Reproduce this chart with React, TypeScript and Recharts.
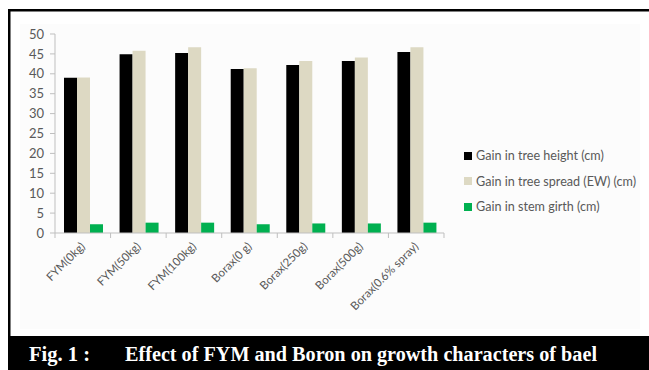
import { BarChart, Bar, XAxis, YAxis } from 'recharts';

// Fig. 1: Effect of FYM and Boron on growth characters of bael
const treatments = [
  'FYM(0kg)',
  'FYM(50kg)',
  'FYM(100kg)',
  'Borax(0 g)',
  'Borax(250g)',
  'Borax(500g)',
  'Borax(0.6% spray)',
];
const treeHeight = [39.0, 44.9, 45.2, 41.2, 42.2, 43.2, 45.5];
const treeSpread = [39.1, 45.8, 46.7, 41.4, 43.2, 44.1, 46.7];
const stemGirth = [2.2, 2.6, 2.6, 2.2, 2.4, 2.4, 2.6];
const yTicks = [0, 5, 10, 15, 20, 25, 30, 35, 40, 45, 50];

const seriesNames = [
  'Gain in tree height (cm)',
  'Gain in tree spread (EW) (cm)',
  'Gain in stem girth (cm)',
];
const seriesColors = ['#000000', '#DDD9C3', '#00B050'];

const data = treatments.map((t, i) => ({
  name: t,
  height: treeHeight[i],
  spread: treeSpread[i],
  girth: stemGirth[i],
}));

const FONT = 'Lato, "Open Sans", sans-serif';
const AXIS_GREY = '#BFBFBF';

// rotated category label plus an Excel-style tick mark at the category boundary
const CategoryTick = (props: any) => {
  const { x, y, payload, index, visibleTicksCount } = props;
  const half = payload?.offset ?? 27.8;
  const isLast = index === visibleTicksCount - 1;
  return (
    <g>
      <line x1={x - half} y1={y - 8} x2={x - half} y2={y - 3} stroke={AXIS_GREY} />
      {isLast && <line x1={x + half} y1={y - 8} x2={x + half} y2={y - 3} stroke={AXIS_GREY} />}
      <text
        x={x + 3}
        y={y + 6}
        textAnchor="end"
        fontSize={11.5}
        fontFamily={FONT}
        fill="#595959"
        transform={`rotate(-45, ${x + 3}, ${y + 6})`}
      >
        {payload.value}
      </text>
    </g>
  );
};

const LegendBox = () => (
  <div style={{ position: 'absolute', left: 464, top: 143, fontFamily: FONT, fontSize: 12.6, color: '#595959' }}>
    {seriesNames.map((n, i) => (
      <div key={n} style={{ display: 'flex', alignItems: 'center', height: 25.5, whiteSpace: 'nowrap' }}>
        <span
          style={{
            display: 'inline-block',
            width: 8,
            height: 8,
            background: seriesColors[i],
            marginRight: 4,
          }}
        />
        <span>{n}</span>
      </div>
    ))}
  </div>
);

export default function App() {
  return (
    <div style={{ position: 'absolute', left: 0, top: 0, width: 649, height: 370, background: '#fff', overflow: 'hidden' }}>
      <svg width={649} height={370} style={{ position: 'absolute', left: 0, top: 0 }}>
        <rect x={20} y={24} width={620} height={305} fill="#FCFCFC" />
        <rect x={8} y={9} width={641} height={2.5} fill="#000" />
        <rect x={8} y={9} width={2.5} height={330} fill="#000" />
        <rect x={8} y={336} width={641} height={34} fill="#000" />
        <text x={29} y={361} fill="#fff" fontFamily='"Liberation Serif", serif' fontWeight="bold" fontSize={20} textLength={61} lengthAdjust="spacingAndGlyphs">
          Fig. 1 :
        </text>
        <text x={125} y={361} fill="#fff" fontFamily='"Liberation Serif", serif' fontWeight="bold" fontSize={20} textLength={472} lengthAdjust="spacingAndGlyphs">
          Effect of FYM and Boron on growth characters of bael
        </text>
      </svg>
      <div style={{ position: 'absolute', left: 0, top: 0 }}>
        <BarChart
          width={649}
          height={330}
          data={data}
          margin={{ top: 34, right: 205, left: 10, bottom: 7 }}
          barCategoryGap={9}
          barGap={0}
        >
          <XAxis
            dataKey="name"
            height={90}
            interval={0}
            tickLine={false}
            axisLine={{ stroke: AXIS_GREY }}
            tick={<CategoryTick />}
          />
          <YAxis
            width={45}
            domain={[0, 50]}
            ticks={yTicks}
            interval={0}
            axisLine={{ stroke: AXIS_GREY }}
            tickLine={{ stroke: AXIS_GREY }}
            tickSize={5}
            tickMargin={6}
            tick={{ fontSize: 13, fontFamily: FONT, fill: '#595959' }}
          />
          <Bar dataKey="height" name={seriesNames[0]} fill={seriesColors[0]} isAnimationActive={false} />
          <Bar dataKey="spread" name={seriesNames[1]} fill={seriesColors[1]} isAnimationActive={false} />
          <Bar dataKey="girth" name={seriesNames[2]} fill={seriesColors[2]} isAnimationActive={false} />
        </BarChart>
      </div>
      <LegendBox />
    </div>
  );
}
